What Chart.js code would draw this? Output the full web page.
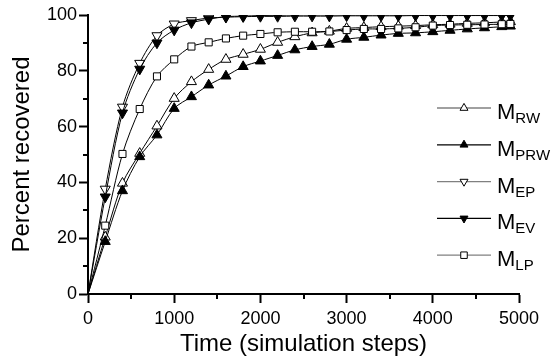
<!DOCTYPE html>
<html>
<head>
<meta charset="utf-8">
<script src="https://cdn.jsdelivr.net/npm/chart.js@4.4.0/dist/chart.umd.min.js"></script>
<style>
  html, body { margin: 0; padding: 0; background: #fff; }
  canvas { display: block; }
</style>
</head>
<body>
<canvas id="chart" width="559" height="360"></canvas>
<script>
// simulation steps where each curve was sampled
const steps = [0, 200, 400, 600, 800, 1000, 1200, 1400, 1600, 1800, 2000, 2200, 2400,
  2600, 2800, 3000, 3200, 3400, 3600, 3800, 4000, 4200, 4400, 4600, 4800, 4900]

// percent recovered
const mRW  = [0, 20.4, 39.7, 50.4, 60.2, 70.1, 76.1, 80.5, 84.1, 85.9, 87.7, 90.2, 92.2,
  93.6, 94.2, 95.2, 95.5, 95.8, 96.0, 96.2, 96.5, 96.7, 97.0, 97.2, 97.5, 97.6]
const mPRW = [0, 18.8, 37.0, 49.2, 57.0, 66.5, 70.7, 74.9, 78.1, 81.5, 83.5, 85.5, 87.5,
  88.7, 89.5, 91.3, 92.0, 92.8, 93.4, 93.6, 94.0, 94.5, 95.0, 95.4, 95.8, 96.0]
const mEP  = [0, 37.6, 67.0, 82.7, 92.6, 96.8, 98.0, 98.9, 99.2, 99.4, 99.5, 99.5, 99.6,
  99.6, 99.6, 99.7, 99.7, 99.7, 99.7, 99.8, 99.8, 99.8, 99.8, 99.8, 99.8, 99.8]
const mEV  = [0, 34.8, 64.9, 80.6, 90.0, 94.6, 97.2, 98.5, 99.4, 99.6, 99.8, 99.9, 100,
  100, 100, 100, 100, 100, 100, 100, 100, 100, 100, 100, 100, 100]
const mLP  = [0, 24.5, 50.2, 66.3, 78.0, 84.1, 88.7, 90.2, 91.6, 92.6, 93.2, 93.8, 94.0,
  94.0, 94.1, 94.6, 95.0, 95.0, 95.2, 95.6, 96.2, 96.4, 96.5, 96.6, 96.7, 96.8]

const seriesNames = ['RW', 'PRW', 'EP', 'EV', 'LP']
const xMinorTicks = [500, 1500, 2500, 3500, 4500]
const yMinorTicks = [10, 30, 50, 70, 90]

const FONT = "'Liberation Sans', Arial, sans-serif"
Chart.defaults.font.family = FONT
Chart.defaults.color = '#000'

function toPoints(values) {
  return steps.map((s, i) => ({ x: s, y: values[i] }))
}

function makeSet(values, style, rotation, fill, legendLine, order) {
  return {
    data: toPoints(values),
    borderColor: '#000',
    borderWidth: 1,
    pointStyle: style,
    pointRotation: rotation,
    pointRadius: ctx => ctx.dataIndex === 0 ? 0 : (style === 'rect' ? 5 : 5.8),
    pointBackgroundColor: fill,
    pointBorderColor: '#000',
    pointBorderWidth: 1,
    tension: 0.3,
    order: order,
    legendLine: legendLine
  }
}

function drawMarker(ctx, style, rotation, x, y, r, fill) {
  ctx.beginPath()
  if (style === 'rect') {
    const s = r * Math.SQRT1_2
    ctx.rect(x - s, y - s, 2 * s, 2 * s)
  } else {
    let rad = rotation * Math.PI / 180
    for (let k = 0; k < 3; k++) {
      const px = x + Math.sin(rad) * r
      const py = y - Math.cos(rad) * r
      k === 0 ? ctx.moveTo(px, py) : ctx.lineTo(px, py)
      rad += 2 * Math.PI / 3
    }
    ctx.closePath()
  }
  ctx.fillStyle = fill
  ctx.fill()
  ctx.strokeStyle = '#000'
  ctx.lineWidth = 1
  ctx.stroke()
}

// small ticks between the labelled ones
const minorTicks = {
  id: 'minorTicks',
  afterDraw(chart) {
    const { ctx, scales } = chart
    const xs = scales.x, ys = scales.y
    ctx.save()
    ctx.strokeStyle = '#000'
    ctx.lineWidth = 2
    ctx.beginPath()
    xMinorTicks.forEach(v => {
      const px = Math.round(xs.getPixelForValue(v))
      ctx.moveTo(px, ys.bottom)
      ctx.lineTo(px, ys.bottom + 5)
    })
    yMinorTicks.forEach(v => {
      const py = Math.round(ys.getPixelForValue(v))
      ctx.moveTo(xs.left, py)
      ctx.lineTo(xs.left - 5, py)
    })
    ctx.stroke()
    ctx.restore()
  }
}

// legend with subscripts, drawn inside the plot on the right
const subLegend = {
  id: 'subLegend',
  afterDraw(chart) {
    const { ctx, chartArea } = chart
    const x0 = chartArea.right - 82
    const x1 = chartArea.right - 28
    chart.data.datasets.forEach((ds, i) => {
      const y = chartArea.top + 93 + i * 36.8
      ctx.save()
      ctx.strokeStyle = ds.legendLine
      ctx.lineWidth = 1.3
      ctx.beginPath()
      ctx.moveTo(x0, y)
      ctx.lineTo(x1, y)
      ctx.stroke()
      drawMarker(ctx, ds.pointStyle, ds.pointRotation, (x0 + x1) / 2, y, 4.6, ds.pointBackgroundColor)
      ctx.fillStyle = '#000'
      ctx.textBaseline = 'alphabetic'
      ctx.font = '22px ' + FONT
      ctx.fillText('M', x1 + 6, y + 11)
      const w = ctx.measureText('M').width
      ctx.font = '15px ' + FONT
      ctx.fillText(seriesNames[i], x1 + 6 + w, y + 15)
      ctx.restore()
    })
  }
}

new Chart(document.getElementById('chart'), {
  type: 'line',
  data: {
    datasets: [
      makeSet(mRW, 'triangle', 0, '#fff', '#808080', 4),
      makeSet(mPRW, 'triangle', 0, '#000', '#000', 3),
      makeSet(mEP, 'triangle', 180, '#fff', '#808080', 2),
      makeSet(mEV, 'triangle', 180, '#000', '#000', 0),
      makeSet(mLP, 'rect', 0, '#fff', '#808080', 1)
    ]
  },
  options: {
    responsive: false,
    animation: false,
    devicePixelRatio: 1,
    layout: { padding: { top: 15, right: 40, left: 0, bottom: 0 } },
    plugins: {
      legend: { display: false },
      tooltip: { enabled: false }
    },
    scales: {
      x: {
        type: 'linear',
        min: 0,
        max: 5000,
        ticks: { stepSize: 1000, font: { size: 18 }, padding: 5, maxRotation: 0, callback: v => String(v) },
        grid: { drawOnChartArea: false, tickLength: 9, tickWidth: 2, tickColor: '#000' },
        border: { color: '#000', width: 2 },
        title: { display: true, text: 'Time (simulation steps)', font: { size: 24 }, padding: { top: 0, bottom: 1 } },
        afterFit: scale => { scale.height = 66 }
      },
      y: {
        min: 0,
        max: 100,
        ticks: { stepSize: 20, font: { size: 18 }, padding: 2 },
        grid: { drawOnChartArea: false, tickLength: 9, tickWidth: 2, tickColor: '#000' },
        border: { color: '#000', width: 2 },
        title: { display: true, text: 'Percent recovered', font: { size: 24 }, padding: { top: 8, bottom: 0 } },
        afterFit: scale => { scale.width = 88 }
      }
    }
  },
  plugins: [minorTicks, subLegend]
})
</script>
</body>
</html>
